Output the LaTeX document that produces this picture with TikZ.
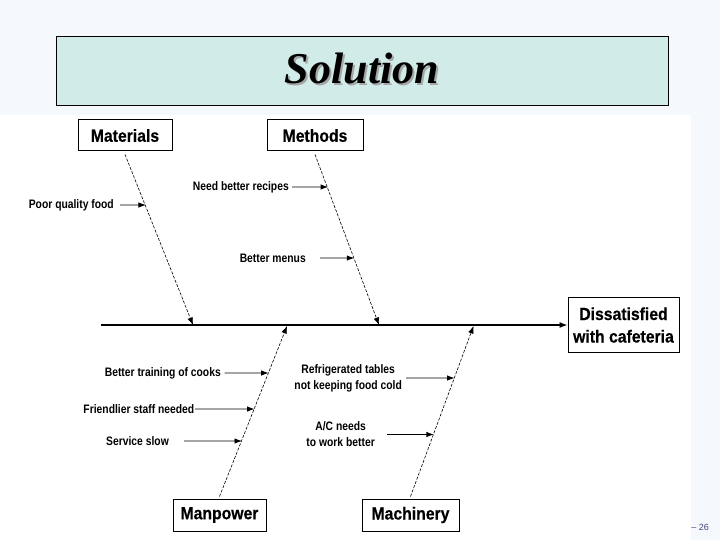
\documentclass[tikz,border=0pt]{standalone}
\usepackage{fontspec}
\setmainfont{Liberation Sans}
\newfontfamily\boxf[FakeStretch=0.9,FakeBold=0.5]{Liberation Sans}
\newfontfamily\lblf[FakeStretch=0.84]{Liberation Sans}
\newfontfamily\titlef{Liberation Serif}
\usetikzlibrary{arrows.meta,calc}
\definecolor{pagebg}{RGB}{245,248,252}
\definecolor{titlebg}{RGB}{209,235,233}
\definecolor{numcol}{RGB}{70,70,120}
\begin{document}
\begin{tikzpicture}[x=1pt,y=-1pt,
  box/.style={draw,line width=1pt,fill=white,inner sep=0pt,align=center,font=\boxf\bfseries\fontsize{17.5}{22.5}\selectfont},
  lbl/.style={inner sep=0pt,anchor=east,align=center,font=\lblf\bfseries\fontsize{12.3}{16}\selectfont},
  bone/.style={line width=0.6pt,dash pattern=on 3pt off 1.5pt,-{Latex[length=7.5pt,width=5.5pt]}},
  arr/.style={line width=0.9pt,-{Latex[length=7.5pt,width=5.5pt]}},
  spine/.style={line width=1.1pt,-{Latex[length=8pt,width=6pt]}}]
\useasboundingbox (0,0) rectangle (720,540);
\fill[pagebg] (0,0) rectangle (720,540);
\fill[white] (0,115) rectangle (691,540);
% title
\node[draw,line width=0.8pt,fill=titlebg,minimum width=612pt,minimum height=69pt,inner sep=0pt] (title) at (362,70.5) {};
\node[font=\titlef\bfseries\itshape\fontsize{44}{48}\selectfont,inner sep=0pt] (ttext) at (362,69.5)
  {\makebox[0pt][l]{\hspace{2pt}\raisebox{-2pt}{\textcolor{black!35}{Solution}}}Solution};
% boxes
\node[box,minimum width=94pt,minimum height=31pt] (mat) at (125,135.5) {Materials};
\node[box,minimum width=96pt,minimum height=31pt] (met) at (315,135.5) {Methods};
\node[box,minimum width=111pt,minimum height=54.5pt] (dis) at (623.5,325) {Dissatisfied\\with cafeteria};
\node[box,minimum width=93pt,minimum height=32pt] (man) at (219.5,515) {Manpower};
\node[box,minimum width=97pt,minimum height=32pt] (mac) at (410.5,515) {Machinery};
% spine
\coordinate (tail) at (101,325);
\draw[spine] (tail) -- (dis.west);
% bone ends on spine
\coordinate (s1) at (193,325);
\coordinate (s2) at (379,325);
\coordinate (s3) at (287,326);
\coordinate (s4) at (473.5,326);
\draw[bone] ($(mat.south)+(0,3)$) -- (s1);
\draw[bone] ($(met.south)+(0,3)$) -- (s2);
\draw[bone] ($(man.north)+(0,-2)$) -- (s3);
\draw[bone] ($(mac.north)+(0,-2)$) -- (s4);
% labels
\node[lbl] (lpq) at (114,205) {Poor quality food};
\node[lbl] (lnr) at (289,187) {Need better recipes};
\node[lbl] (lbm) at (306,258) {Better menus};
\node[lbl] (lbt) at (221,373) {Better training of cooks};
\node[lbl] (lfs) at (194.5,409) {Friendlier staff needed};
\node[lbl] (lss) at (169,441) {Service slow};
\node[lbl] (lrt) at (402,378) {Refrigerated tables\\not keeping food cold};
\node[lbl] (lac) at (375,434.5) {A/C needs\\to work better};
% small arrows
\draw[arr] ([xshift=6pt]lpq.east) -- (intersection of mat.south--s1 and lpq.east--lpq.west);
\draw[arr] ([xshift=3pt]lnr.east) -- (intersection of met.south--s2 and lnr.east--lnr.west);
\draw[arr] ([xshift=14pt]lbm.east) -- (intersection of met.south--s2 and lbm.east--lbm.west);
\draw[arr] ([xshift=3.5pt]lbt.east) -- (intersection of man.north--s3 and lbt.east--lbt.west);
\draw[arr] ([xshift=0.5pt]lfs.east) -- (intersection of man.north--s3 and lfs.east--lfs.west);
\draw[arr] ([xshift=15pt]lss.east) -- (intersection of man.north--s3 and lss.east--lss.west);
\draw[arr] ([xshift=4pt]lrt.east) -- (intersection of mac.north--s4 and lrt.east--lrt.west);
\draw[arr] ([xshift=12pt]lac.east) -- (intersection of mac.north--s4 and lac.east--lac.west);
% page number
\node[anchor=east,inner sep=0pt,text=numcol,font=\fontsize{9}{10}\selectfont] (pg) at (709,527) {– 26};
\end{tikzpicture}
\end{document}
